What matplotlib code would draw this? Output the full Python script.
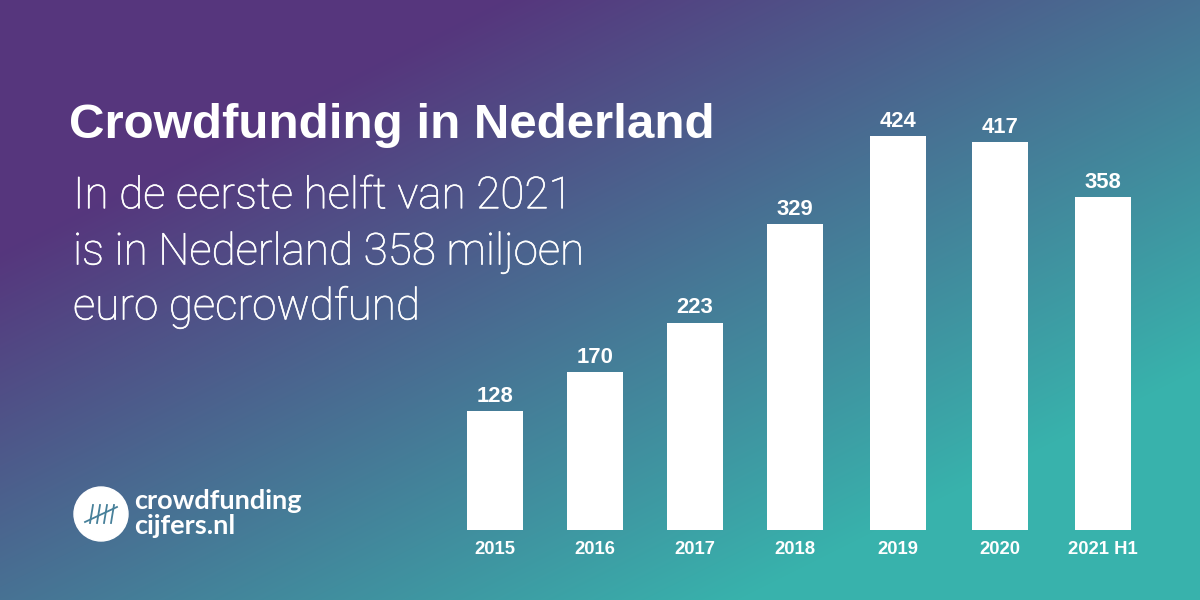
import numpy as np
import matplotlib
matplotlib.use('Agg')
import matplotlib.pyplot as plt
import matplotlib.patheffects as pe
from matplotlib.patches import Circle

labels = ['2015', '2016', '2017', '2018', '2019', '2020', '2021 H1']
values = [128, 170, 223, 329, 424, 417, 358]
bar_slots = [0, 1, 2, 3, 4.03, 5.05, 6.08]

title = 'Crowdfunding in Nederland'
subtitle = ['In de eerste helft van 2021', 'is in Nederland 358 miljoen', 'euro gecrowdfund']

W, H = 1200, 600
fig = plt.figure(figsize=(12, 6), dpi=100)

# achtergrond: diagonale kleurovergang paars -> teal, linksboven vlak paars
bg = fig.add_axes([0, 0, 1, 1])
bg.set_xlim(0, W)
bg.set_ylim(H, 0)
bg.axis('off')
yy, xx = np.mgrid[0:H, 0:W]
t = (xx * 0.447 + yy * 0.894 - 225) / 640
t = np.clip(t, 0, 1)[..., None]
c0 = np.array([86, 54, 125]) / 255
c1 = np.array([56, 178, 172]) / 255
bg.imshow(c0 + (c1 - c0) * t, extent=(0, W, H, 0), aspect='auto', zorder=0)

# staafdiagram
ax = fig.add_axes([445 / W, 70 / H, 710 / W, 460 / H])
ax.patch.set_alpha(0)
ax.bar(bar_slots, values, width=0.56, color='white')
ax.set_xlim(-0.5, 6.6)
ax.set_ylim(0, 460 / 0.93)
for s in ax.spines.values():
    s.set_visible(False)
ax.set_yticks([])
ax.set_xticks(bar_slots)
ax.set_xticklabels(labels, fontsize=13.3, fontweight='bold', color='white', family='Liberation Sans')
ax.tick_params(axis='x', length=0, pad=8)
for x, v in zip(bar_slots, values):
    ax.annotate(str(v), (x, v), xytext=(0, 3), textcoords='offset points', ha='center', va='bottom',
                fontsize=15.8, fontweight='bold', color='white', family='Liberation Sans')

# teksten
bg.text(69, 126, title, fontsize=35.5, fontweight='bold', color='white', family='Liberation Sans', va='center')
for y, line in zip([196, 252, 307], subtitle):
    bg.text(73, y, line, fontsize=31.7, fontweight='light', color='white', family='Roboto', va='center',
            path_effects=[pe.withStroke(linewidth=0.4, foreground='white')])

# logo
bg.add_patch(Circle((101, 514), 27, color='white', zorder=2))
for i in range(4):
    bg.plot([93 + i * 7, 90 + i * 7], [505, 523], color='#47809a', lw=1.3, zorder=3)
bg.plot([85, 117], [522, 507], color='#47809a', lw=1.3, zorder=3)
bg.text(134, 501, 'crowdfunding', fontsize=19.5, fontweight='bold', color='white', family='Lato', va='center')
bg.text(134, 526, 'cijfers.nl', fontsize=19.5, fontweight='bold', color='white', family='Lato', va='center')

fig.savefig('out.png', dpi=100)
